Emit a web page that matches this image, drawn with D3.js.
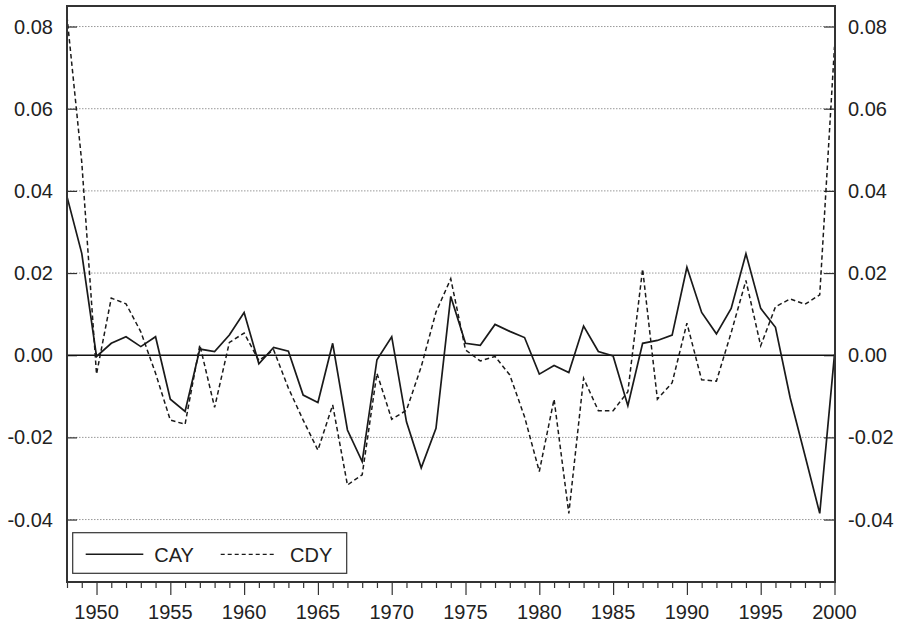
<!DOCTYPE html>
<html><head><meta charset="utf-8">
<script src="https://cdn.jsdelivr.net/npm/d3@7"></script>
<style>body{margin:0;background:#fff}svg{display:block}text{font-family:"Liberation Sans",Arial,sans-serif;fill:#222}</style>
</head><body><svg id="c" width="907" height="625"></svg>
<script>
const years = d3.range(1948, 2001);
const cay = [0.0386,0.0248,-0.0003,0.0029,0.0045,0.0021,0.0045,-0.0107,-0.0137,0.0015,0.0009,0.0049,0.0104,-0.0021,0.0019,0.0010,-0.0097,-0.0115,0.0029,-0.0182,-0.0259,-0.0011,0.0045,-0.0162,-0.0274,-0.0178,0.0143,0.0029,0.0024,0.0075,0.0058,0.0043,-0.0046,-0.0025,-0.0042,0.0071,0.0009,-0.0002,-0.0123,0.0029,0.0036,0.0049,0.0214,0.0104,0.0052,0.0114,0.0247,0.0114,0.0068,-0.0104,-0.0244,-0.0385,0.0002];
const cdy = [0.0824,0.0470,-0.0046,0.0139,0.0125,0.0057,-0.0044,-0.0158,-0.0168,0.0025,-0.0127,0.0031,0.0054,-0.0013,0.0013,-0.0080,-0.0158,-0.0231,-0.0121,-0.0316,-0.0291,-0.0044,-0.0156,-0.0134,-0.0028,0.0105,0.0186,0.0013,-0.0014,-0.0003,-0.0048,-0.0150,-0.0283,-0.0107,-0.0385,-0.0056,-0.0135,-0.0135,-0.0089,0.0210,-0.0107,-0.0067,0.0078,-0.0060,-0.0063,0.0055,0.0182,0.0023,0.0118,0.0137,0.0124,0.0147,0.0751];
const yTicks = [-0.04,-0.02,0.00,0.02,0.04,0.06,0.08];
const xMajor = [1950,1955,1960,1965,1970,1975,1980,1985,1990,1995,2000];
const seriesNames = ["CAY","CDY"];

const L=67,R=835,T=6,B=582;
const svg=d3.select("#c");
const x=d3.scaleLinear().domain([1948,2000]).range([L,834.5]);
const y=d3.scaleLinear().domain([-0.0552,0.0850]).range([B,T]);
const fmt=d=>d3.format(".2f")(d).replace("\u2212","-");

// gridlines
svg.append("g").selectAll("line").data(yTicks.filter(d=>d!==0)).join("line")
  .attr("x1",L).attr("x2",R).attr("y1",d=>y(d)).attr("y2",d=>y(d))
  .attr("stroke","#999").attr("stroke-width",1).attr("stroke-dasharray","1.5,1.5");

// left axis
const gl=svg.append("g").attr("transform",`translate(${L},0)`)
  .call(d3.axisRight(y).tickValues(yTicks).tickSize(10).tickFormat(""));
gl.select(".domain").remove();
gl.selectAll("line").attr("stroke","#333").attr("stroke-width",1.2);
svg.append("g").selectAll("text").data(yTicks).join("text")
  .attr("x",53).attr("y",d=>y(d)+7).attr("text-anchor","end").attr("font-size",20).text(fmt);
// right axis
const gr=svg.append("g").attr("transform",`translate(${R},0)`)
  .call(d3.axisLeft(y).tickValues(yTicks).tickSize(11).tickFormat(""));
gr.select(".domain").remove();
gr.selectAll("line").attr("stroke","#333").attr("stroke-width",1.2);
svg.append("g").selectAll("text").data(yTicks).join("text")
  .attr("x",848).attr("y",d=>y(d)+7).attr("text-anchor","start").attr("font-size",20).text(fmt);

// bottom axis
const gb=svg.append("g").attr("transform",`translate(0,${B})`)
  .call(d3.axisBottom(x).tickValues(years).tickSize(6).tickFormat(""));
gb.select(".domain").remove();
gb.selectAll(".tick line").attr("stroke","#333").attr("stroke-width",1.2)
  .attr("y2",d=>xMajor.includes(d)?13:6);
svg.append("g").selectAll("text").data(xMajor).join("text")
  .attr("x",d=>x(d)).attr("y",619).attr("text-anchor","middle").attr("font-size",20).text(d=>d);

// zero line
svg.append("line").attr("x1",L).attr("x2",R).attr("y1",y(0)).attr("y2",y(0))
  .attr("stroke","#111").attr("stroke-width",1.6);

const line=d3.line().x((d,i)=>x(years[i])).y(d=>y(d));
svg.append("path").datum(cay).attr("d",line).attr("fill","none")
  .attr("stroke","#1a1a1a").attr("stroke-width",1.7).attr("stroke-linejoin","miter");
svg.append("path").datum(cdy).attr("d",line).attr("fill","none")
  .attr("stroke","#1a1a1a").attr("stroke-width",1.5).attr("stroke-dasharray","4.5,3");

// frame
svg.append("rect").attr("x",L).attr("y",T).attr("width",R-L).attr("height",B-T)
  .attr("fill","none").attr("stroke","#333").attr("stroke-width",2);

// legend
const lg=svg.append("g");
lg.append("rect").attr("x",72.7).attr("y",532.7).attr("width",274).attr("height",40.6)
  .attr("fill","#fff").attr("stroke","#333").attr("stroke-width",1.2);
lg.append("line").attr("x1",85.7).attr("x2",143.3).attr("y1",554.3).attr("y2",554.3)
  .attr("stroke","#1a1a1a").attr("stroke-width",1.5);
lg.append("text").attr("x",154.3).attr("y",561.5).attr("font-size",20).text(seriesNames[0]);
lg.append("line").attr("x1",220.7).attr("x2",276).attr("y1",554.3).attr("y2",554.3)
  .attr("stroke","#1a1a1a").attr("stroke-width",1.3).attr("stroke-dasharray","4,3");
lg.append("text").attr("x",290).attr("y",561.5).attr("font-size",20).text(seriesNames[1]);
</script></body></html>
